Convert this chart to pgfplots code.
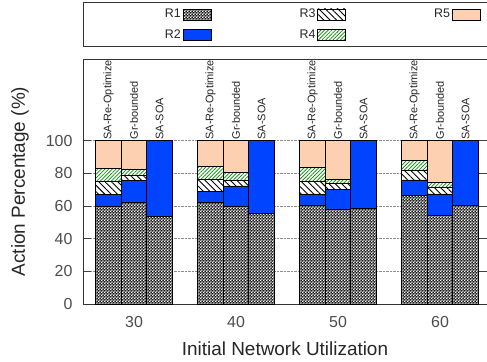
\documentclass[border=0pt]{standalone}
\usepackage{fontspec}
\setmainfont{Liberation Sans}
\usepackage{pgfplots}
\pgfplotsset{compat=1.18}
\usetikzlibrary{patterns,patterns.meta}

\pgfdeclarepatternformonly{checker}{\pgfqpoint{0pt}{0pt}}{\pgfqpoint{3.2pt}{3.2pt}}{\pgfqpoint{3.2pt}{3.2pt}}{%
  \pgfpathrectangle{\pgfqpoint{0pt}{0pt}}{\pgfqpoint{1.6pt}{1.6pt}}%
  \pgfpathrectangle{\pgfqpoint{1.6pt}{1.6pt}}{\pgfqpoint{1.6pt}{1.6pt}}%
  \pgfusepath{fill}}

\definecolor{rblue}{RGB}{0,68,255}
\definecolor{rpeach}{RGB}{252,208,176}
\definecolor{rgreen}{RGB}{0,140,0}

% x positions: group g at g, bars at g-0.25 (SA-Re-Optimize), g (Gr-bounded), g+0.25 (SA-SOA)
\pgfplotstableread{
x     R1    R2    R3   R4   R5
-0.25 59.5  7.5   8.2  8.0  16.8
0.00  62.0  13.4  3.2  4.1  17.3
0.25  53.7  46.3  0    0    0
0.75  62.0  6.8   7.6  8.1  15.5
1.00  59.8  12.5  3.7  4.4  19.6
1.25  55.7  44.3  0    0    0
1.75  60.7  6.7   7.6  8.5  16.5
2.00  58.2  11.7  4.1  2.6  23.4
2.25  58.7  41.3  0    0    0
2.75  66.8  9.2   5.7  6.1  12.2
3.00  54.1  13.3  4.1  3.1  25.4
3.25  60.5  39.5  0    0    0
}\datatable

\begin{document}
\begin{tikzpicture}
\begin{axis}[
  name=ax,
  scale only axis, width=404bp, height=245bp,
  ybar stacked, bar width=0.25,
  xmin=-0.5, xmax=3.46, ymin=0, ymax=150,
  enlarge x limits=false, enlarge y limits=false,
  xtick={0,1,2,3}, xticklabels={30,40,50,60},
  ytick={0,20,40,60,80,100},
  /pgf/number format/assume math mode=true,
  ymajorgrids, grid style={densely dotted, black!45, line width=0.6pt},
  xtick style={draw=none},
  ytick pos=both, yticklabel pos=left,
  tick align=inside, major tick length=8bp,
  ytick style={black!75, line width=0.8pt},
  axis line style={black!80, line width=0.9pt},
  ticklabel style={font=\fontsize{16}{18}\selectfont, text=black!70},
  yticklabel style={xshift=-7bp},
  xticklabel style={yshift=-9bp},
  xlabel={Initial Network Utilization},
  ylabel={Action Percentage (\%)},
  label style={font=\fontsize{19}{22}\selectfont, text=black!85},
  xlabel style={at={(rel axis cs:0.5,0)}, anchor=base, yshift=-51bp},
  ylabel style={at={(rel axis cs:0,0.5)}, anchor=center, rotate=0, yshift=63bp},
  clip=false,
  legend plot pos=right, transpose legend, legend columns=2,
  legend image code/.code={\draw[#1] (0bp,-5.5bp) rectangle (28bp,5.5bp);},
  legend style={draw=none, fill=none, at={(rel axis cs:0.19,1.22)}, anchor=north west,
    font=\fontsize{12.5}{14}\selectfont, text=black!85,
    nodes={inner sep=2bp},
    /tikz/every even column/.append style={column sep=86bp},
    /tikz/row sep=6bp},
]
\addplot[draw=black, line width=0.7pt, fill=black!90, postaction={pattern=checker, pattern color=white}] table[x=x,y=R1] {\datatable};
\addplot[draw=black, line width=0.7pt, fill=rblue] table[x=x,y=R2] {\datatable};
\addplot[draw=black, line width=0.7pt, fill=white, postaction={pattern={Lines[angle=135,distance=4.5pt,line width=0.9pt]}, pattern color=black}] table[x=x,y=R3] {\datatable};
\addplot[draw=black, line width=0.7pt, fill=white, postaction={pattern={Lines[angle=45,distance=2.6pt,line width=0.7pt]}, pattern color=rgreen}] table[x=x,y=R4] {\datatable};
\addplot[draw=black, line width=0.7pt, fill=rpeach] table[x=x,y=R5] {\datatable};
\legend{R1,R2,R3,R4,R5}

\draw[black!80, line width=0.9pt] (rel axis cs:0,1.053) rectangle (rel axis cs:1.003,1.229);

\node[rotate=90, anchor=west, font=\fontsize{11}{12}\selectfont, text=black!85, inner sep=1bp] at (axis cs:-0.25,100) {SA-Re-Optimize};
\node[rotate=90, anchor=west, font=\fontsize{11}{12}\selectfont, text=black!85, inner sep=1bp] at (axis cs:0,100) {Gr-bounded};
\node[rotate=90, anchor=west, font=\fontsize{11}{12}\selectfont, text=black!85, inner sep=1bp] at (axis cs:0.25,100) {SA-SOA};
\node[rotate=90, anchor=west, font=\fontsize{11}{12}\selectfont, text=black!85, inner sep=1bp] at (axis cs:0.75,100) {SA-Re-Optimize};
\node[rotate=90, anchor=west, font=\fontsize{11}{12}\selectfont, text=black!85, inner sep=1bp] at (axis cs:1,100) {Gr-bounded};
\node[rotate=90, anchor=west, font=\fontsize{11}{12}\selectfont, text=black!85, inner sep=1bp] at (axis cs:1.25,100) {SA-SOA};
\node[rotate=90, anchor=west, font=\fontsize{11}{12}\selectfont, text=black!85, inner sep=1bp] at (axis cs:1.75,100) {SA-Re-Optimize};
\node[rotate=90, anchor=west, font=\fontsize{11}{12}\selectfont, text=black!85, inner sep=1bp] at (axis cs:2,100) {Gr-bounded};
\node[rotate=90, anchor=west, font=\fontsize{11}{12}\selectfont, text=black!85, inner sep=1bp] at (axis cs:2.25,100) {SA-SOA};
\node[rotate=90, anchor=west, font=\fontsize{11}{12}\selectfont, text=black!85, inner sep=1bp] at (axis cs:2.75,100) {SA-Re-Optimize};
\node[rotate=90, anchor=west, font=\fontsize{11}{12}\selectfont, text=black!85, inner sep=1bp] at (axis cs:3,100) {Gr-bounded};
\node[rotate=90, anchor=west, font=\fontsize{11}{12}\selectfont, text=black!85, inner sep=1bp] at (axis cs:3.25,100) {SA-SOA};
\end{axis}
\pgfresetboundingbox
\path ([xshift=-83bp,yshift=-58bp]ax.south west) rectangle ([yshift=59bp]ax.north east);
\end{tikzpicture}
\end{document}
